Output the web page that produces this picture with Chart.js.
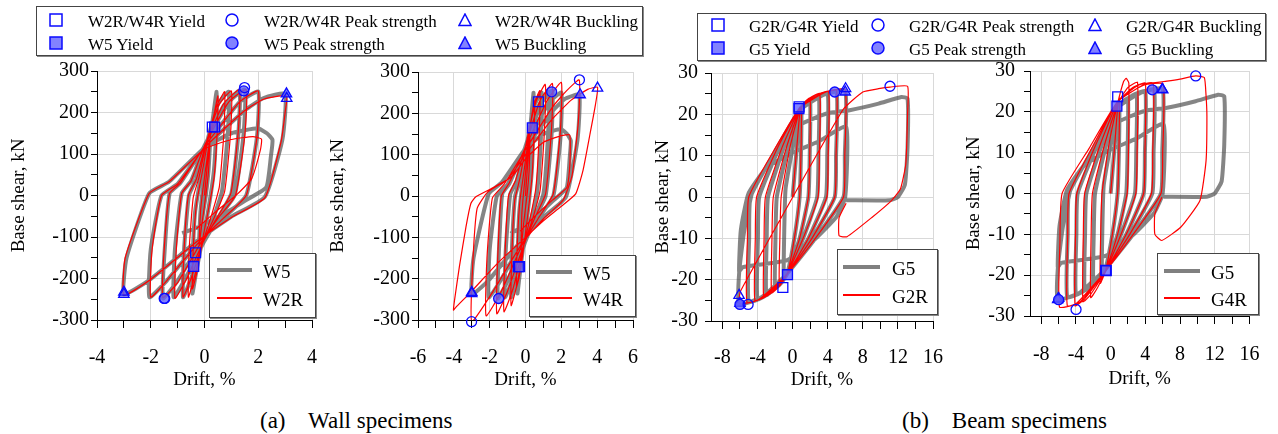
<!DOCTYPE html>
<html>
<head>
<meta charset="utf-8">
<script src="https://cdn.jsdelivr.net/npm/chart.js@4.4.1/dist/chart.umd.min.js"></script>
<style>
  body { margin: 0; background: #fff; width: 1278px; height: 434px; position: relative; overflow: hidden;
         font-family: "Liberation Serif", Tinos, "Times New Roman", Times, "Noto Serif", "DejaVu Serif", serif; color: #000; }
  canvas { position: absolute; }
  .legbox { position: absolute; border: 1px solid #444; background: #fff; box-shadow: 1px 1px 0 #888; }
  .lab { position: absolute; white-space: pre; transform: translateY(-50%); line-height: 1; }
  .cap { position: absolute; white-space: pre; font-size: 23px; line-height: 26px; }
</style>
</head>
<body>
<canvas id="p1" width="335" height="345" style="left:0px;top:50px"></canvas>
<canvas id="p2" width="336" height="345" style="left:320px;top:50px"></canvas>
<canvas id="p3" width="310" height="345" style="left:650px;top:50px"></canvas>
<canvas id="p4" width="318" height="345" style="left:960px;top:50px"></canvas>
<div class="cap" style="left:260px;top:408px">(a)    Wall specimens</div>
<div class="cap" style="left:902px;top:408px">(b)    Beam specimens</div>
<script>
// ---- data: [drift %, base shear kN] ----
const w5Curve = [
  [0,0],[0.1,60],[0.2,120],
  [0.15,60],[0.05,0],[-0.1,-60],[-0.2,-110],
  [-0.15,-40],[-0.05,20],[0.15,110],[0.3,180],[0.45,250],
  [0.44,170],[0.35,60],[0.1,-50],[-0.15,-130],[-0.35,-200],[-0.45,-236],
  [-0.44,-150],[-0.35,-40],[-0.15,40],[0.1,130],[0.5,220],[0.9,250],
  [0.87,150],[0.65,10],[0.3,-60],[-0.05,-110],[-0.5,-200],[-0.8,-245],
  [-0.76,-130],[-0.58,0],[-0.3,40],[0.05,120],[0.7,215],[1.3,252],
  [1.26,150],[1.0,5],[0.45,-60],[-0.05,-115],[-0.75,-205],[-1.15,-245],
  [-1.1,-130],[-0.85,5],[-0.5,35],[0,120],[0.9,225],[1.5,255],
  [1.45,145],[1.12,0],[0.5,-55],[-0.1,-110],[-1.05,-210],[-1.55,-248],
  [-1.48,-130],[-1.3,5],[-0.9,30],[0,118],[1.3,225],[2.0,250],
  [1.95,140],[1.55,0],[0.7,-55],[-0.15,-108],[-1.4,-205],[-2.05,-245],
  [-2.0,-130],[-1.6,0],[-1.0,28],[0,115],[1.5,205],[2.2,235],[3.0,245],
  [2.9,135],[2.25,-3],[1.0,-51],[-0.22,-107],[-2.06,-204],[-3.0,-238],
  [-2.9,-150],[-2.06,5],[-1.32,33],[0,115],[1.0,150],[1.98,162],[2.32,150],[2.53,134],
  [2.47,94],[2.3,20],[1.55,-11],[0.76,-43],[-0.2,-75],[-0.83,-91]
];
const w2rCurve = [
  [0,0],[0.1,70],[0.2,130],
  [0.15,60],[0.05,0],[-0.1,-70],[-0.2,-120],
  [-0.15,-40],[-0.05,20],[0.15,115],[0.3,175],[0.5,240],
  [0.47,150],[0.35,40],[0.1,-50],[-0.15,-130],[-0.3,-190],[-0.45,-225],
  [-0.42,-130],[-0.3,-20],[-0.1,50],[0.15,140],[0.45,215],[0.75,250],
  [0.72,150],[0.55,20],[0.25,-50],[-0.05,-110],[-0.35,-190],[-0.6,-245],
  [-0.57,-130],[-0.42,-5],[-0.2,45],[0.1,135],[0.55,220],[1.0,252],
  [0.97,150],[0.75,10],[0.35,-55],[-0.05,-112],[-0.5,-200],[-0.8,-245],
  [-0.76,-130],[-0.6,0],[-0.3,40],[0.05,125],[0.7,220],[1.3,255],
  [1.25,150],[0.98,5],[0.45,-55],[-0.05,-112],[-0.7,-205],[-1.1,-248],
  [-1.05,-130],[-0.85,5],[-0.5,35],[0,120],[0.9,225],[1.55,255],
  [1.5,145],[1.15,0],[0.5,-55],[-0.1,-110],[-1.0,-210],[-1.55,-246],
  [-1.5,-130],[-1.3,5],[-0.9,30],[0,118],[1.3,225],[2.0,252],
  [1.95,140],[1.55,0],[0.7,-55],[-0.15,-108],[-1.4,-205],[-2.0,-245],
  [-1.95,-130],[-1.6,0],[-1.0,28],[0,115],[1.5,205],[2.2,232],[3.05,240],
  [3.0,200],[2.85,130],[2.25,-5],[1.0,-53],[-0.22,-108],[-2.06,-205],[-3.0,-240],
  [-2.95,-150],[-2.06,5],[-1.32,33],[0,112],[1.0,135],[1.8,142],[2.12,136],
  [2.08,110],[1.75,40],[1.2,2],[0.4,-40],[-0.3,-80]
];
const w4rCurve = [
  [0,0],[0.1,65],[0.25,140],
  [0.2,60],[0.08,0],[-0.1,-65],[-0.25,-130],
  [-0.2,-40],[-0.08,20],[0.15,120],[0.3,180],[0.5,230],
  [0.47,140],[0.35,40],[0.1,-55],[-0.15,-140],[-0.35,-195],[-0.5,-220],
  [-0.46,-120],[-0.32,-15],[-0.1,55],[0.2,150],[0.5,225],[0.8,255],
  [0.76,150],[0.58,20],[0.25,-55],[-0.1,-120],[-0.45,-210],[-0.8,-265],
  [-0.76,-140],[-0.6,-10],[-0.3,45],[0.1,140],[0.6,230],[1.1,270],
  [1.06,160],[0.82,15],[0.4,-55],[-0.1,-120],[-0.7,-225],[-1.2,-280],
  [-1.15,-150],[-0.95,0],[-0.55,38],[0,120],[0.8,230],[1.5,272],
  [1.45,160],[1.12,5],[0.5,-55],[-0.15,-125],[-1.0,-230],[-1.6,-285],
  [-1.55,-150],[-1.35,0],[-0.9,32],[0,118],[1.2,230],[2.0,275],
  [1.95,160],[1.55,5],[0.7,-55],[-0.2,-120],[-1.4,-235],[-2.2,-290],
  [-2.15,-150],[-1.85,-5],[-1.2,28],[0,112],[1.5,215],[2.3,255],[3.0,281],
  [2.95,180],[2.6,50],[2.1,-10],[1.0,-55],[-0.2,-115],[-1.8,-230],[-3.0,-304],
  [-2.95,-170],[-2.7,-30],[-2.1,10],[-1.0,40],[0,100],[1.45,184],[2.55,232],[3.47,258],[4.02,263],
  [3.9,220],[3.6,150],[3.2,60],[2.8,5],[2.0,-25],[1.0,-60],[0,-100],[-1.5,-160],[-3.0,-230],[-3.9,-270],[-4.02,-276],
  [-3.96,-252],[-3.69,-171],[-3.32,-74],[-3.05,-18],[-2.77,-2],[-1.85,19],[-0.75,47],[0,90],
  [1.0,130],[2.0,146],[2.46,148],[2.5,120],[2.45,60],[2.3,20],[1.5,-10],[0.5,-50],[-0.3,-85]
];
const g5Curve = [
  [0,0],[0.4,10],[0.8,20],[1.0,21.5],
  [0.95,10],[0.8,0],[0.2,-10],[-0.6,-18.5],[-1.0,-19.5],
  [-0.95,-8],[-0.8,2],[0,12],[0.8,21],[1.4,22.5],[2.0,23.3],
  [1.95,10],[1.8,0],[0.8,-10],[-0.6,-18.5],[-1.3,-20.8],[-2.0,-22],
  [-1.95,-10],[-1.8,0],[-0.5,12],[0.8,21],[2.0,23.3],[3.0,24.3],
  [2.95,10],[2.8,0],[1.2,-10],[-0.6,-18.5],[-2.0,-22],[-3.0,-23.7],
  [-2.95,-10],[-2.8,0],[-1.0,12],[0.8,21],[2.5,24],[4.0,25],
  [3.95,10],[3.8,0],[1.8,-10],[-0.6,-18.5],[-2.5,-23],[-4.0,-24.7],
  [-3.95,-10],[-3.8,0],[-1.5,12],[0.8,21],[3.0,24.3],[5.0,25.4],
  [4.95,10],[4.8,0],[2.2,-10],[-0.6,-18.5],[-3.0,-23.7],[-5.0,-25.4],
  [-4.95,-10],[-4.8,0],[-2.0,11],[0.8,21],[3.5,24.7],[6.0,25.7],
  [5.95,10],[5.8,0],[2.6,-10],[-0.6,-18.5],[-3.5,-24.2],[-6.1,-26],
  [-6.08,-18],[-5.5,-8],[-4.5,2],[-3.0,7],[-0.2,10.5],[3.0,13.5],[6.1,17],
  [6.0,0],[5.0,-4.8],[2.4,-10.5],[-0.6,-15.3],[-5.7,-17],[-6.1,-18],
  [-5.9,-8],[-5.0,1],[-2.0,10],[0.9,17.5],[3.9,20.2],[6.5,21],[9.8,22.6],[12.4,24.2],[13.1,23.8],
  [13.1,12],[12.8,3],[12.0,0],[11.1,-0.8],[6.1,-0.8]
];
const g2rCurve = [
  [0,0],[0.4,10],[0.8,20],[1.0,21.8],
  [0.95,10],[0.8,0],[0.2,-10],[-0.6,-18.5],[-1.5,-21.5],
  [-1.45,-10],[-1.3,0],[-0.3,12],[0.8,21],[1.4,23],[2.0,24],
  [1.95,10],[1.8,0],[0.8,-10],[-0.6,-18.5],[-1.5,-21.5],[-2.4,-23.2],
  [-2.35,-10],[-2.2,0],[-0.7,12],[0.8,21.2],[2.0,24],[3.1,25],
  [3.05,10],[2.9,0],[1.2,-10],[-0.6,-18.5],[-2.4,-23.2],[-3.3,-24.2],
  [-3.25,-10],[-3.1,0],[-1.2,12],[0.8,21.3],[2.6,24.6],[4.1,25.5],
  [4.05,10],[3.9,0],[1.8,-10],[-0.6,-18.5],[-3.0,-24],[-4.3,-25],
  [-4.25,-10],[-4.1,0],[-1.7,12],[0.8,21.4],[3.2,25],[5.0,25.8],
  [4.95,10],[4.8,0],[2.2,-10],[-0.6,-18.5],[-3.5,-24.5],[-5.2,-25.5],
  [-5.15,-10],[-5.0,0],[-2.2,11],[0.8,21.5],[3.8,25.4],[6.0,26],
  [5.95,10],[5.8,0],[2.6,-10],[-0.6,-18.6],[-4.0,-25],[-6.1,-25.8],
  [-5.9,-22.6],[5.7,21],[8.0,25.4],[9.8,26.2],[11.1,26.6],[13.1,26.8],[13.1,20],[12.9,8],
  [12.3,2],[11.3,-0.8],[9.0,-5],[6.2,-9.6],[5.3,-9.4],[5.3,-5],[6.1,-1.5]
];
const g4rCurve = [
  [0,0],[0.4,10],[0.8,21],[1.0,23.5],
  [0.95,10],[0.8,0],[0.2,-10],[-0.6,-19],[-1.2,-22],
  [-1.15,-10],[-1.0,0],[-0.2,12],[0.8,22],[1.5,27.5],[1.8,28.2],[2.1,27],
  [2.05,10],[1.9,0],[0.8,-10],[-0.6,-19],[-1.5,-23],[-2.3,-25.5],
  [-2.25,-10],[-2.1,0],[-0.7,12],[0.8,22],[2.0,26],[3.1,27.2],
  [3.05,10],[2.9,0],[1.2,-10],[-0.6,-19],[-2.4,-25],[-3.2,-26.5],
  [-3.15,-10],[-3.0,0],[-1.2,12],[0.8,22.3],[2.6,26],[4.0,27],
  [3.95,10],[3.8,0],[1.8,-10],[-0.6,-19],[-3.0,-25.8],[-4.1,-27.5],
  [-4.05,-10],[-3.9,0],[-1.7,12],[0.8,22.5],[3.2,26.5],[4.9,27],
  [4.85,10],[4.7,0],[2.2,-10],[-0.6,-19],[-3.5,-26.5],[-5.0,-27.5],
  [-4.95,-10],[-4.8,0],[-2.2,11],[0.8,22.5],[3.8,26.5],[6.05,26.8],
  [6.0,10],[5.8,0],[2.6,-10],[-0.6,-19],[-4.0,-27],[-5.9,-27.8],
  [-5.85,-12],[-5.6,0],[-2.5,11],[0.8,22.5],[4.0,26.8],[6.5,27.5],[8.0,28],[9.8,28.8],[10.8,28.4],
  [11.0,24],[11.1,19],[11.0,8],[10.3,-1.7],[8.1,-8.2],[5.9,-11.5],[5.1,-10],[5.1,-5],[5.9,-0.9]
];

// key points (markers)
const w5Yield = [[0.38,165],[-0.4,-171]];
const w5Peak = [[1.46,252],[-1.5,-248]];
const w5Buckling = [[3.05,245],[-3.0,-233]];
const w2rYield = [[0.29,165],[-0.33,-138]];
const w2rPeak = [[1.49,260],[-1.48,-248]];
const w2rBuckling = [[3.06,234],[-3.0,-238]];
const w4rYield = [[0.72,228],[-0.33,-171]];
const w4rPeak = [[3.01,281],[-3.01,-304]];
const w4rBuckling = [[4.02,261],[-3.0,-236]];
const g5Yield = [[0.72,21.4],[-0.58,-18.8]];
const g5Peak = [[4.8,25.4],[-6.0,-26]];
const g5Buckling = [[6.0,25.4],[-6.0,-25.7]];
const g2rYield = [[0.74,21.8],[-1.11,-21.9]];
const g2rPeak = [[11.1,26.8],[-5.07,-26]];
const g2rBuckling = [[6.04,26.2],[-6.1,-23.8]];
const g4rYield = [[0.81,23.7],[-0.5,-18.9]];
const g4rPeak = [[9.81,28.8],[-3.99,-28.4]];
const g4rBuckling = [[5.95,25.5],[-6.1,-26]];

// axis ticks
const wallYTicks = [-300,-250,-200,-150,-100,-50,0,50,100,150,200,250,300];
const beamYTicks = [-30,-25,-20,-15,-10,-5,0,5,10,15,20,25,30];
const wallXTicksA = [-4,-3,-2,-1,0,1,2,3,4];
const wallXTicksB = [-6,-5,-4,-3,-2,-1,0,1,2,3,4,5,6];
const beamXTicks = [-8,-6,-4,-2,0,2,4,6,8,10,12,14,16];

// ---- styling ----
const SERIF = '"Liberation Serif", Tinos, "Times New Roman", Times, "Noto Serif", "DejaVu Serif", serif';
const BLUE = '#0a0aff';
const BLUE_FILL = 'rgba(95,95,255,0.78)';
const GREY = 'rgba(70,70,70,0.66)';
const RED = '#ff0000';
const GRID = '#d9d9d9';

const toXY = pts => pts.map(p => ({ x: p[0], y: p[1] }));

function curve(pts, color, width, order) {
  return { data: toXY(pts), showLine: true, borderColor: color, borderWidth: width,
           pointRadius: 0, tension: 0.15, fill: false, order: order };
}
function marks(pts, style, filled, r) {
  return { data: toXY(pts), showLine: false, pointStyle: style, pointRadius: r,
           pointBorderColor: BLUE, pointBorderWidth: 1.3,
           pointBackgroundColor: filled ? BLUE_FILL : 'rgba(255,255,255,0)', order: 0, clip: false };
}

function makePanel(c) {
  new Chart(document.getElementById(c.id), {
    type: 'scatter',
    data: { datasets: c.datasets },
    options: {
      responsive: false, animation: false, devicePixelRatio: 1,
      layout: { padding: { top: c.padTop, right: c.padRight, left: 0, bottom: 0 } },
      plugins: { legend: { display: false }, tooltip: { enabled: false } },
      scales: {
        x: {
          type: 'linear', min: c.xMin, max: c.xMax,
          afterBuildTicks: s => { s.ticks = c.xTicks.map(v => ({ value: v })); },
          afterFit: s => { s.height = c.xH; },
          ticks: { autoSkip: false, maxRotation: 0, color: '#000', padding: c.xTickPad,
                   font: { family: SERIF, size: 20 },
                   callback: v => (v % c.xMajor === 0 ? String(v) : '') },
          grid: { color: g => (g.tick && g.tick.value % c.xMajor === 0 ? GRID : 'rgba(0,0,0,0)'),
                  tickColor: '#000', tickLength: 8, lineWidth: 1 },
          border: { color: '#000', width: 1 },
          title: { display: true, text: 'Drift, %', color: '#000', font: { family: SERIF, size: 19 },
                   padding: { top: 0, bottom: c.xTitlePad } }
        },
        y: {
          type: 'linear', min: c.yMin, max: c.yMax,
          afterBuildTicks: s => { s.ticks = c.yTicks.map(v => ({ value: v })); },
          afterFit: s => { s.width = c.yW; },
          ticks: { autoSkip: false, color: '#000', padding: c.yTickPad,
                   font: { family: SERIF, size: 20 },
                   callback: v => (v % c.yMajor === 0 ? String(v) : '') },
          grid: { color: g => (g.tick && g.tick.value % c.yMajor === 0 ? GRID : 'rgba(0,0,0,0)'),
                  tickColor: '#000', tickLength: 6, lineWidth: 1 },
          border: { color: '#000', width: 1 },
          title: { display: true, text: 'Base shear, kN', color: '#000', font: { family: SERIF, size: 19 },
                   padding: { top: c.yTitlePad, bottom: 0 } }
        }
      }
    }
  });
}

makePanel({ id: 'p1', xMin: -4, xMax: 4, xTicks: wallXTicksA, xMajor: 2,
  yMin: -300, yMax: 300, yTicks: wallYTicks, yMajor: 100,
  yW: 97, xH: 75, padTop: 21, padRight: 20, xTickPad: 18, yTickPad: 2, xTitlePad: 4, yTitlePad: 7.6,
  datasets: [
    marks(w2rYield, 'rect', false, 7), marks(w5Yield, 'rect', true, 7),
    marks(w2rPeak, 'circle', false, 5), marks(w5Peak, 'circle', true, 5),
    marks(w2rBuckling, 'triangle', false, 6), marks(w5Buckling, 'triangle', true, 6),
    curve(w2rCurve, RED, 1.2, 1), curve(w5Curve, GREY, 4, 2)
  ] });

makePanel({ id: 'p2', xMin: -6, xMax: 6, xTicks: wallXTicksB, xMajor: 2,
  yMin: -300, yMax: 300, yTicks: wallYTicks, yMajor: 100,
  yW: 98, xH: 75, padTop: 22, padRight: 20, xTickPad: 18, yTickPad: 2, xTitlePad: 4, yTitlePad: 6.6,
  datasets: [
    marks(w4rYield, 'rect', false, 7), marks(w5Yield, 'rect', true, 7),
    marks(w4rPeak, 'circle', false, 5), marks(w5Peak, 'circle', true, 5),
    marks(w4rBuckling, 'triangle', false, 6), marks(w5Buckling, 'triangle', true, 6),
    curve(w4rCurve, RED, 1.2, 1), curve(w5Curve, GREY, 4, 2)
  ] });

makePanel({ id: 'p3', xMin: -9.3, xMax: 16, xTicks: beamXTicks, xMajor: 4,
  yMin: -30, yMax: 30, yTicks: beamYTicks, yMajor: 10,
  yW: 61, xH: 74, padTop: 23, padRight: 21, xTickPad: 17, yTickPad: 7, xTitlePad: 4, yTitlePad: 1.6,
  datasets: [
    marks(g2rYield, 'rect', false, 7), marks(g5Yield, 'rect', true, 7),
    marks(g2rPeak, 'circle', false, 5), marks(g5Peak, 'circle', true, 5),
    marks(g2rBuckling, 'triangle', false, 6), marks(g5Buckling, 'triangle', true, 6),
    curve(g2rCurve, RED, 1.2, 1), curve(g5Curve, GREY, 4, 2)
  ] });

makePanel({ id: 'p4', xMin: -9.3, xMax: 16, xTicks: beamXTicks, xMajor: 4,
  yMin: -30, yMax: 30, yTicks: beamYTicks, yMajor: 10,
  yW: 70, xH: 79, padTop: 20, padRight: 21, xTickPad: 18.6, yTickPad: 9, xTitlePad: 5, yTitlePad: 2.6,
  datasets: [
    marks(g4rYield, 'rect', false, 7), marks(g5Yield, 'rect', true, 7),
    marks(g4rPeak, 'circle', false, 5), marks(g5Peak, 'circle', true, 5),
    marks(g4rBuckling, 'triangle', false, 6), marks(g5Buckling, 'triangle', true, 6),
    curve(g4rCurve, RED, 1.2, 1), curve(g5Curve, GREY, 4, 2)
  ] });

// ---- legends (HTML) ----
function markerSvg(shape, filled, size) {
  const f = filled ? BLUE_FILL : 'none';
  const h = size / 2;
  let s;
  if (shape === 'rect') s = `<rect x="1" y="1" width="${size - 2}" height="${size - 2}" fill="${f}" stroke="${BLUE}" stroke-width="1.5"/>`;
  else if (shape === 'circle') s = `<circle cx="${h}" cy="${h}" r="${h - 1}" fill="${f}" stroke="${BLUE}" stroke-width="1.5"/>`;
  else s = `<polygon points="${h},1 ${size - 1},${size - 1.5} 1,${size - 1.5}" fill="${f}" stroke="${BLUE}" stroke-width="1.5"/>`;
  return `<svg width="${size}" height="${size}" style="position:absolute" xmlns="http://www.w3.org/2000/svg">${s}</svg>`;
}
function box(l, t, r, b) {
  const d = document.createElement('div');
  d.className = 'legbox';
  d.style.left = l + 'px'; d.style.top = t + 'px';
  d.style.width = (r - l) + 'px'; d.style.height = (b - t) + 'px';
  document.body.appendChild(d);
}
function text(str, x, y, size) {
  const s = document.createElement('div');
  s.className = 'lab';
  s.style.left = x + 'px'; s.style.top = y + 'px'; s.style.fontSize = size + 'px';
  s.textContent = str;
  document.body.appendChild(s);
}
function markerLegend(frame, items, markerX, textX, rowY) {
  box(frame[0], frame[1], frame[2], frame[3]);
  items.forEach((it, i) => {
    const col = i % 3, row = Math.floor(i / 3);
    const m = document.createElement('div');
    m.style.position = 'absolute';
    m.style.left = (markerX[col] - 7) + 'px'; m.style.top = (rowY[row] - 7) + 'px';
    m.innerHTML = markerSvg(it[1], it[2], 14);
    document.body.appendChild(m);
    text(it[0], textX[col], rowY[row] + 1, 17);
  });
}
function lineLegend(frame, lx, greyY, redY, tx, labels) {
  box(frame[0], frame[1], frame[2], frame[3]);
  const g = document.createElement('div');
  g.style.cssText = `position:absolute;left:${lx[0]}px;top:${greyY - 2}px;width:${lx[1] - lx[0]}px;height:4px;background:rgb(128,128,128)`;
  const r = document.createElement('div');
  r.style.cssText = `position:absolute;left:${lx[0]}px;top:${redY - 0.6}px;width:${lx[1] - lx[0]}px;height:1.2px;background:${RED}`;
  document.body.appendChild(g); document.body.appendChild(r);
  text(labels[0], tx, greyY + 1, 19);
  text(labels[1], tx, redY + 1, 19);
}

markerLegend([36, 6, 641, 54], [
  ['W2R/W4R Yield', 'rect', false], ['W2R/W4R Peak strength', 'circle', false], ['W2R/W4R Buckling', 'triangle', false],
  ['W5 Yield', 'rect', true], ['W5 Peak strength', 'circle', true], ['W5 Buckling', 'triangle', true]
], [56, 232, 465], [88, 264, 495], [20, 43]);

markerLegend([697, 13, 1264, 59], [
  ['G2R/G4R Yield', 'rect', false], ['G2R/G4R Peak strength', 'circle', false], ['G2R/G4R Buckling', 'triangle', false],
  ['G5 Yield', 'rect', true], ['G5 Peak strength', 'circle', true], ['G5 Buckling', 'triangle', true]
], [718, 878, 1095], [749, 909, 1126], [25, 48]);

lineLegend([209, 253, 314, 316], [217, 252], 270, 298, 263, ['W5', 'W2R']);
lineLegend([529, 255, 634, 315], [536, 572], 272, 298, 583, ['W5', 'W4R']);
lineLegend([837, 249, 936, 313], [843, 880], 267, 295, 892, ['G5', 'G2R']);
lineLegend([1157, 253, 1257, 313], [1164, 1200], 271, 298, 1211, ['G5', 'G4R']);
</script>
</body>
</html>
